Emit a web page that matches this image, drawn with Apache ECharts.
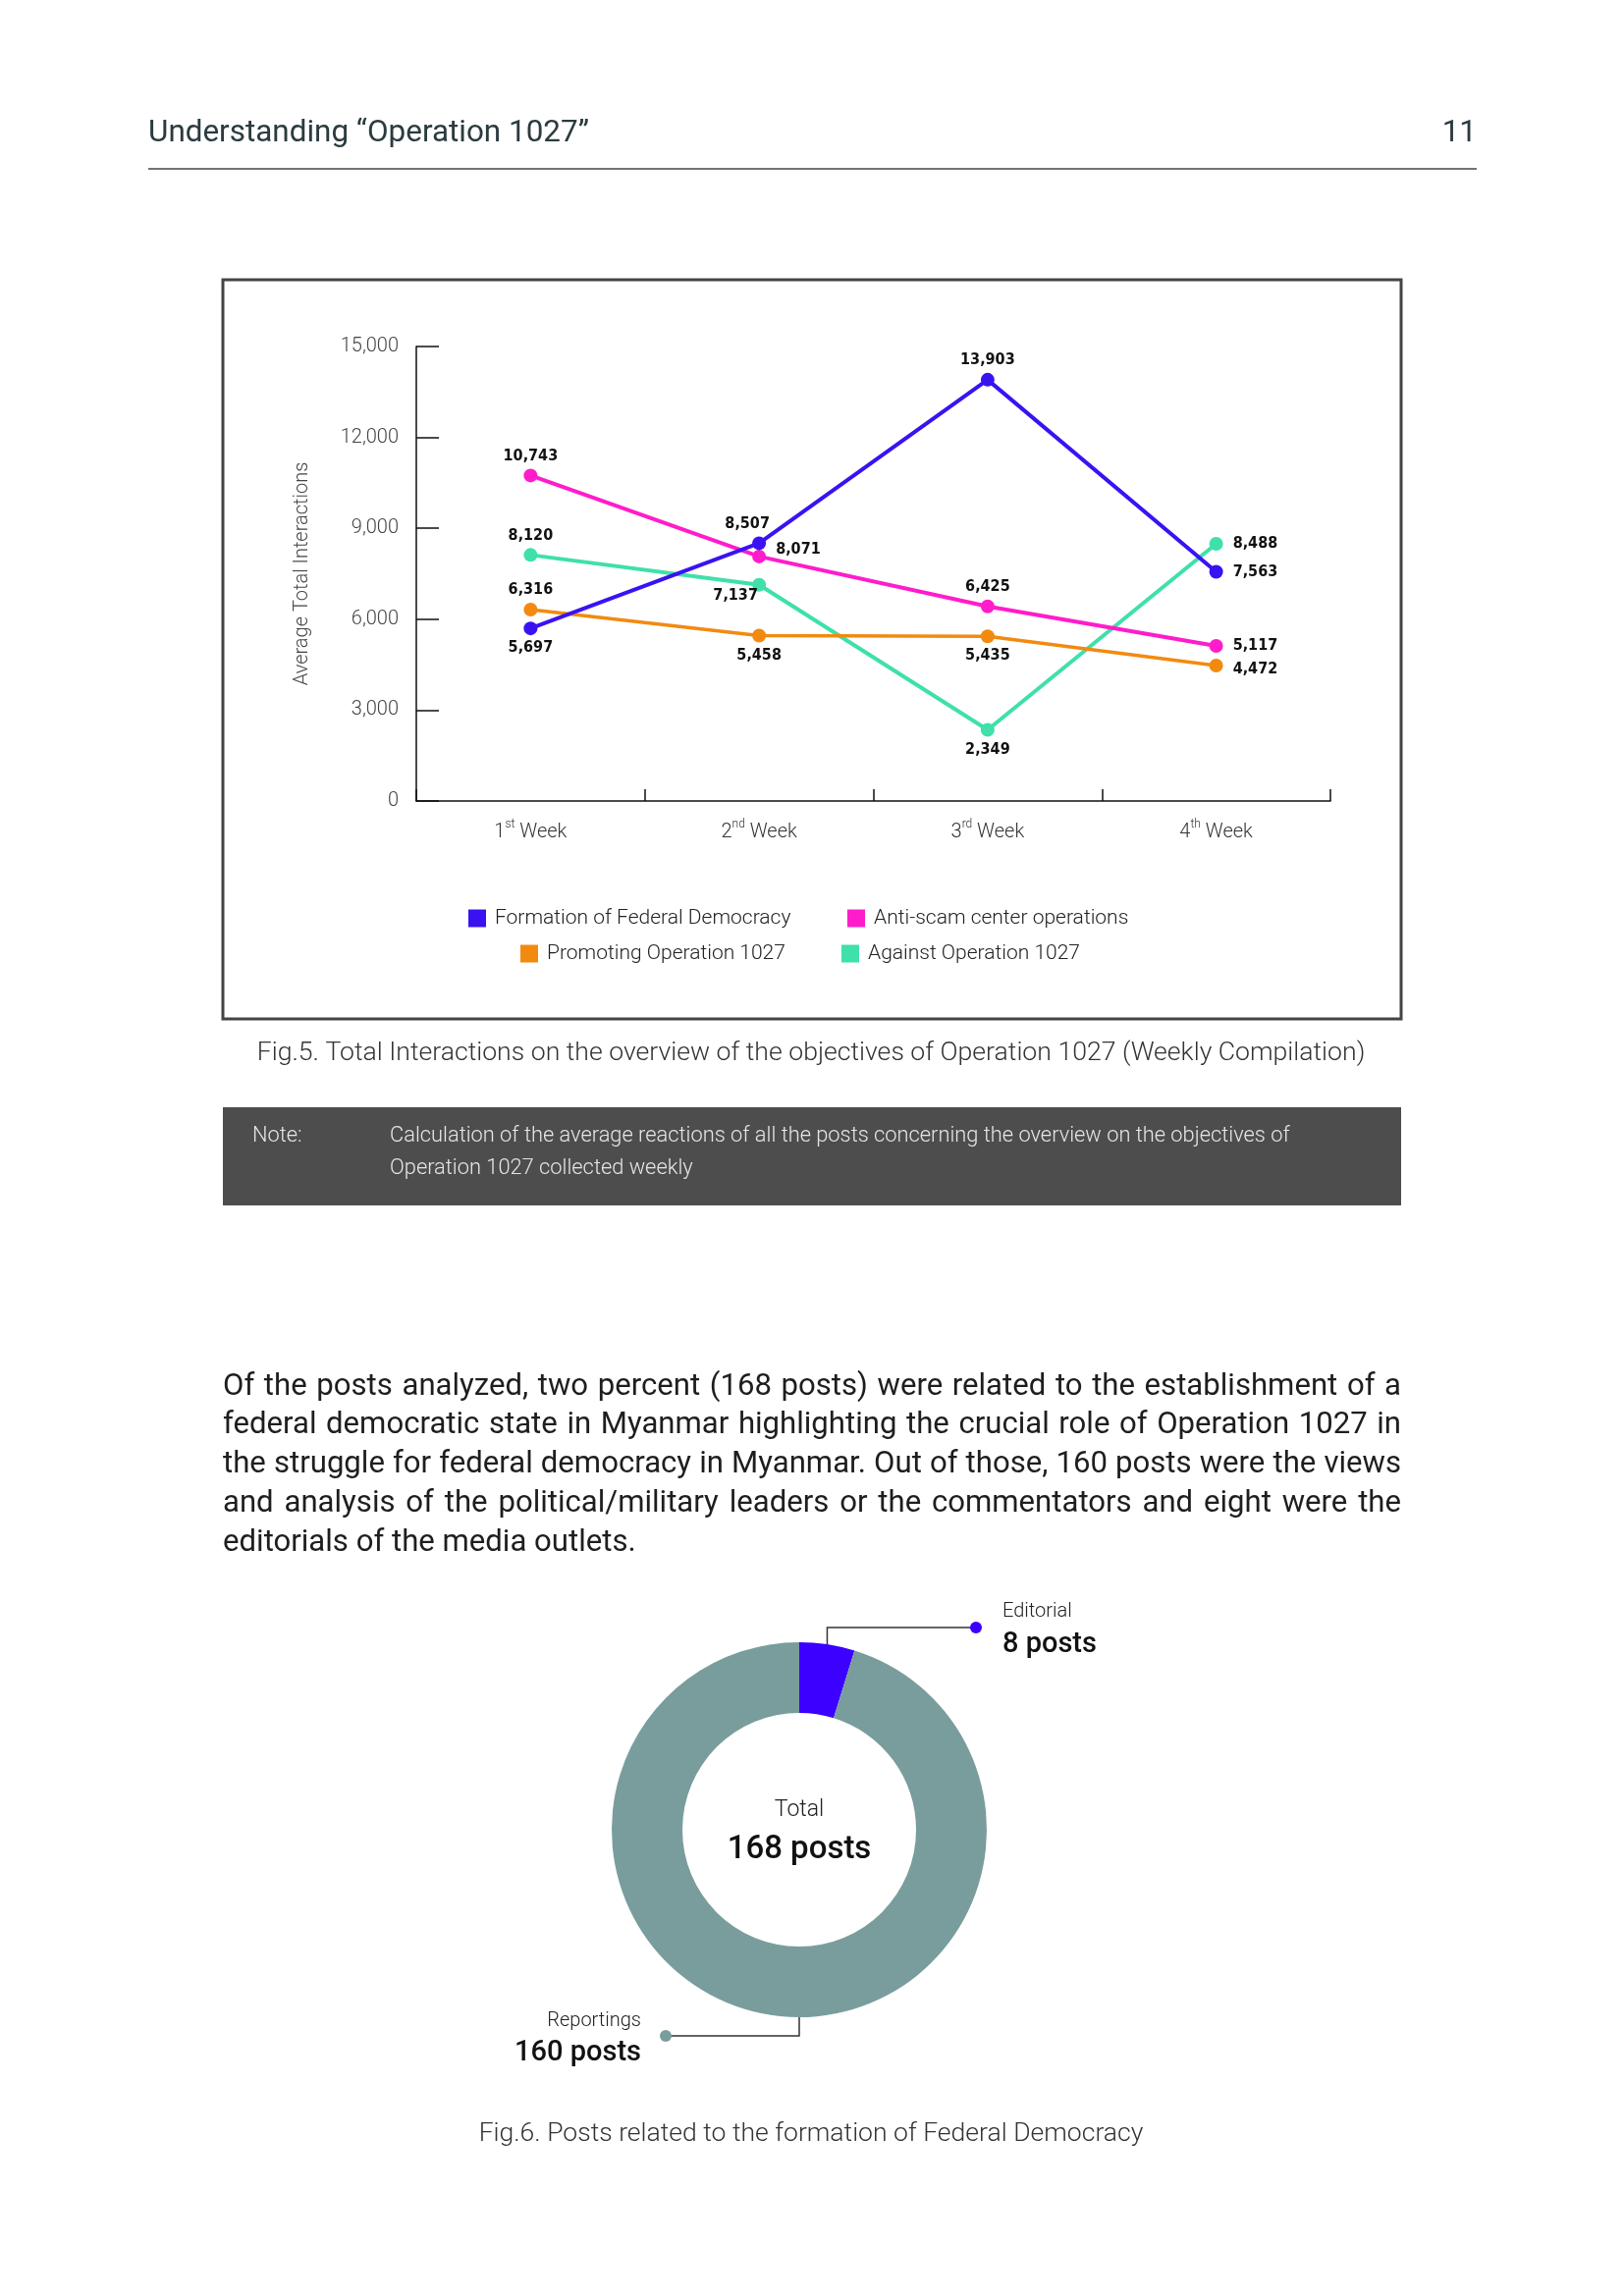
<!DOCTYPE html>
<html><head><meta charset="utf-8">
<script src="https://cdn.jsdelivr.net/npm/echarts@6/dist/echarts.min.js"></script>
<style>html,body{margin:0;padding:0;background:#fff}#c{width:1654px;height:2339px}</style>
</head><body><div id="c"></div>
<script>
// ---------- DATA ----------
const weeks = ['1st Week', '2nd Week', '3rd Week', '4th Week'];
const seriesNames = ['Formation of Federal Democracy', 'Anti-scam center operations', 'Promoting Operation 1027', 'Against Operation 1027'];
const federal = [5697, 8507, 13903, 7563];
const antiScam = [10743, 8071, 6425, 5117];
const promoting = [6316, 5458, 5435, 4472];
const against = [8120, 7137, 2349, 8488];
const yMin = 0, yMax = 15000, yStep = 3000;
const donutNames = ['Editorial', 'Reportings'];
const donutValues = [8, 160];

const headerText = 'Understanding \u201cOperation 1027\u201d';
const pageNum = '11';
const fig5Caption = 'Fig.5. Total Interactions on the overview of the objectives of Operation 1027 (Weekly Compilation)';
const noteLabel = 'Note:';
const noteLines = ['Calculation of the average reactions of all the posts concerning the overview on the objectives of', 'Operation 1027 collected weekly'];
const paragraphLines = [
  'Of the posts analyzed, two percent (168 posts) were related to the establishment of a',
  'federal democratic state in Myanmar highlighting the crucial role of Operation 1027 in',
  'the struggle for federal democracy in Myanmar. Out of those, 160 posts were the views',
  'and analysis of the political/military leaders or the commentators and eight were the',
  'editorials of the media outlets.'
];
const fig6Caption = 'Fig.6. Posts related to the formation of Federal Democracy';

// ---------- STYLE ----------
const FONT = 'Roboto';
const LABEL_FONT = '"Liberation Sans Narrow", "DejaVu Sans Condensed", "Liberation Sans", sans-serif';
const colors = ['#3a12f2', '#ff1ccb', '#f28a10', '#3fe0aa'];
const donutColors = ['#3b00ff', '#799d9c'];
const cv = document.createElement('canvas').getContext('2d');
function measure(text, size, weight, family) {
  cv.font = `${weight} ${size}px "${family}"`;
  return cv.measureText(text).width;
}
function fit(text, width, weight, family) {
  return 100 * width / measure(text, 100, weight, family);
}
function txt(text, x, y, size, opts) {
  opts = opts || {};
  return { type: 'text', x: x, y: y, z: 10, silent: true, style: {
    text: text, fontSize: size, fontFamily: opts.family || FONT, fontWeight: opts.weight || 400,
    fill: opts.fill || '#222', align: opts.align || 'left', verticalAlign: 'middle' } };
}
function justified(lines, x0, width, y0, lh, size, weight, fill) {
  const els = [];
  lines.forEach((line, li) => {
    const words = line.split(' ');
    const ws = words.map(w => measure(w, size, weight, FONT));
    const tot = ws.reduce((a, b) => a + b, 0);
    const last = li === lines.length - 1;
    const gap = last ? measure(' ', size, weight, FONT) : (width - tot) / (words.length - 1);
    let x = x0;
    words.forEach((w, i) => { els.push(txt(w, x, y0 + li * lh, size, { weight: weight, fill: fill })); x += ws[i] + gap; });
  });
  return els;
}

// ---------- LINE SERIES ----------
const labelPos = [
  [{ position: 'bottom' }, { position: 'top', offset: [-12, 0] }, { position: 'top' }, { position: 'right', distance: 10 }],
  [{ position: 'top' }, { position: 'right', distance: 10, offset: [0, -7] }, { position: 'top' }, { position: 'right', distance: 10 }],
  [{ position: 'top' }, { position: 'bottom' }, { position: 'bottom' }, { position: 'right', distance: 10, offset: [0, 4] }],
  [{ position: 'top' }, { position: 'bottom', offset: [-24, -9] }, { position: 'bottom' }, { position: 'right', distance: 10 }]
];
const allValues = [federal, antiScam, promoting, against];
const lineWidths = [4, 4, 3.5, 4];
const lineSeries = allValues.map((vals, s) => ({
  name: seriesNames[s], type: 'line', z: 4 - s,
  data: vals.map((v, i) => ({ value: v, label: labelPos[s][i] })),
  symbol: 'circle', symbolSize: 14, showSymbol: true,
  lineStyle: { color: colors[s], width: lineWidths[s] },
  itemStyle: { color: colors[s] },
  label: { show: true, formatter: p => p.value.toLocaleString('en-US'),
    fontFamily: LABEL_FONT, fontWeight: 'bold', fontSize: 16, color: '#111' },
  emphasis: { disabled: true }
}));

const legendPos = [[477, 925], [863, 925], [530, 961], [857, 961]];
const legends = seriesNames.map((n, i) => ({
  data: [n], left: legendPos[i][0], top: legendPos[i][1], padding: 0,
  icon: 'rect', itemWidth: 18, itemHeight: 18, selectedMode: false,
  textStyle: { fontFamily: FONT, fontWeight: 300, fontSize: 21, color: '#222', padding: [0, 0, 0, 4] }
}));

// ---------- DONUT GEOMETRY ----------
const cx = 814, cy = 1864, rOut = 191, rIn = 119;
const total = donutValues.reduce((a, b) => a + b, 0);
const edMid = (90 - (donutValues[0] / total * 360) / 2) * Math.PI / 180;
const edX = cx + rOut * Math.cos(edMid), edY = cy - rOut * Math.sin(edMid);
const edElbowY = 1658, edDotX = 994;
const repX = cx, repY = cy + rOut, repElbowY = 2074, repDotX = 678;

// ---------- TEXT SIZES ----------
const headerSize = fit(headerText, 449, 400, FONT);
const fig5Size = fit(fig5Caption, 1129, 300, FONT);
const noteSize = fit(noteLines[0], 917, 300, FONT);
const paraSize = fit(paragraphLines[4], 421, 400, FONT);
const fig6Size = fit(fig6Caption, 677, 300, FONT);

const graphics = [
  txt(headerText, 151, 136, headerSize, { fill: '#2b3b3f' }),
  txt(pageNum, 1504, 136, headerSize, { fill: '#2b3b3f', align: 'right' }),
  { type: 'line', shape: { x1: 151, y1: 172, x2: 1504, y2: 172 }, style: { stroke: '#444', lineWidth: 1.5 } },
  { type: 'rect', shape: { x: 227, y: 285, width: 1200, height: 753 }, style: { fill: 'none', stroke: '#444', lineWidth: 3 }, z: 1 },
  txt(fig5Caption, 826, 1073, fig5Size, { weight: 300, fill: '#333', align: 'center' }),
  { type: 'rect', shape: { x: 227, y: 1128, width: 1200, height: 100 }, style: { fill: '#4d4d4d' }, z: 1 },
  txt(noteLabel, 257, 1158, noteSize, { weight: 300, fill: '#e6e6e6' }),
  txt(noteLines[0], 397, 1158, noteSize, { weight: 300, fill: '#e6e6e6' }),
  txt(noteLines[1], 397, 1191, noteSize, { weight: 300, fill: '#e6e6e6' }),
  ...justified(paragraphLines, 227, 1200, 1413, 39.7, paraSize, 400, '#1e1e1e'),
  txt('Total', cx, 1844, 23, { weight: 300, fill: '#222', align: 'center' }),
  txt(total + ' posts', cx, 1885, 33, { weight: 500, fill: '#111', align: 'center' }),
  { type: 'polyline', shape: { points: [[edX, edY], [edX, edElbowY], [edDotX, edElbowY]] }, style: { stroke: '#333', lineWidth: 1.5, fill: 'none' } },
  { type: 'circle', shape: { cx: edDotX, cy: edElbowY, r: 6 }, style: { fill: donutColors[0] } },
  txt(donutNames[0], 1021, 1642, 20, { weight: 300, fill: '#222' }),
  txt(donutValues[0] + ' posts', 1021, 1676, 29, { weight: 500, fill: '#111' }),
  { type: 'polyline', shape: { points: [[repX, repY], [repX, repElbowY], [repDotX, repElbowY]] }, style: { stroke: '#333', lineWidth: 1.5, fill: 'none' } },
  { type: 'circle', shape: { cx: repDotX, cy: repElbowY, r: 6 }, style: { fill: donutColors[1] } },
  txt(donutNames[1], 653, 2059, 20, { weight: 300, fill: '#222', align: 'right' }),
  txt(donutValues[1] + ' posts', 653, 2092, 29, { weight: 500, fill: '#111', align: 'right' }),
  txt(fig6Caption, 826, 2174, fig6Size, { weight: 300, fill: '#333', align: 'center' })
];

const chart = echarts.init(document.getElementById('c'), null, { renderer: 'canvas' });
chart.setOption({
  animation: false,
  backgroundColor: '#fff',
  grid: { left: 424, top: 353, width: 931, height: 463, containLabel: false },
  legend: legends,
  xAxis: {
    type: 'category', data: weeks, boundaryGap: true,
    axisLine: { show: true, lineStyle: { color: '#111', width: 1.5 } },
    axisTick: { show: true, inside: true, length: 12, lineStyle: { color: '#111', width: 1.5 } },
    axisLabel: {
      margin: 18,
      formatter: v => { const m = v.match(/^(\d+)(st|nd|rd|th) (.*)$/); return `{n|${m[1]}}{s|${m[2]}}{n| ${m[3]}}`; },
      rich: {
        n: { fontFamily: FONT, fontWeight: 300, fontSize: 20, color: '#333', lineHeight: 24, verticalAlign: 'bottom' },
        s: { fontFamily: FONT, fontWeight: 300, fontSize: 12, color: '#333', lineHeight: 24, verticalAlign: 'top', padding: [0, 0, 10, 0] }
      }
    },
    splitLine: { show: false }
  },
  yAxis: {
    type: 'value', min: yMin, max: yMax, interval: yStep,
    axisLine: { show: true, lineStyle: { color: '#111', width: 1.5 } },
    axisTick: { show: true, inside: true, length: 23, lineStyle: { color: '#111', width: 1.5 } },
    axisLabel: { margin: 18, fontFamily: FONT, fontWeight: 300, fontSize: 20, color: '#444', formatter: v => v.toLocaleString('en-US') },
    splitLine: { show: false },
    name: 'Average Total Interactions', nameLocation: 'middle', nameGap: 106,
    nameTextStyle: { fontFamily: FONT, fontWeight: 300, fontSize: 20, color: '#444' }
  },
  series: [
    ...lineSeries,
    {
      type: 'pie', name: 'posts', center: [cx, cy], radius: [rIn, rOut], startAngle: 90, clockwise: true,
      data: donutNames.map((n, i) => ({ name: n, value: donutValues[i], itemStyle: { color: donutColors[i] } })),
      label: { show: false }, labelLine: { show: false }, emphasis: { disabled: true }, silent: true
    }
  ],
  graphic: graphics
});
</script>
</body></html>
